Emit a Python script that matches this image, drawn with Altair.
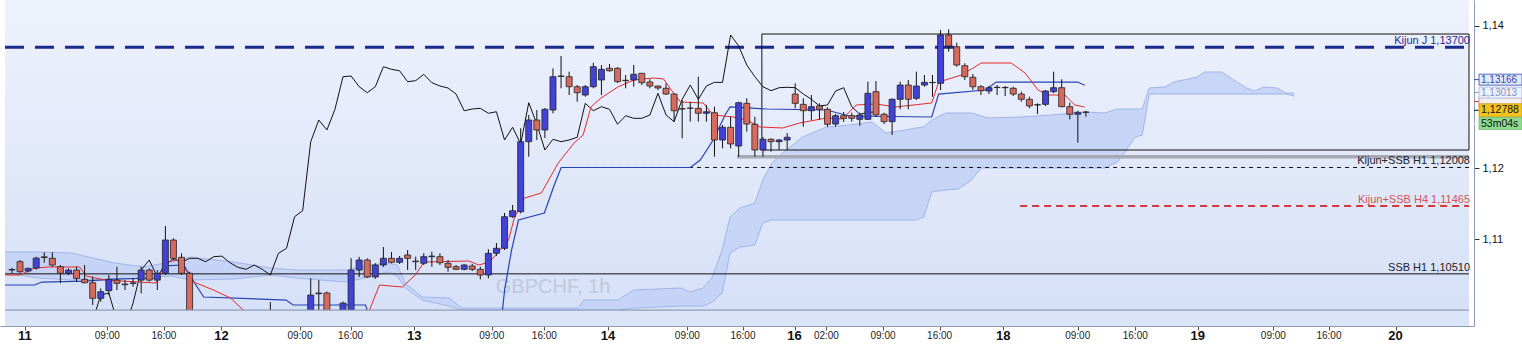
import altair as alt
import pandas as pd

FONT = "Liberation Sans"

# ---------------- candles (hourly bar index) ----------------
bar_index = list(range(134))
open_ = [1.10564, 1.10681, 1.10550, 1.10591, 1.10750, 1.10729, 1.10611, 1.10518, 1.10563, 1.10433,
         1.10385, 1.10166, 1.10273, 1.10422, 1.10367, 1.10377, 1.10422, 1.10563, 1.10422, 1.10518,
         1.10986, 1.10743, 1.10518, 1.0968, 1.0930, 1.0942, 1.0950, 1.0938, 1.0912, 1.0925,
         1.0940, 1.0952, 1.0965, 1.0975, 1.0960, 1.0925, 1.0958, 1.0985, 1.10230, 1.10241,
         1.0985, 1.0975, 1.0995, 1.10564, 1.10705, 1.10466, 1.10635, 1.10729, 1.10673, 1.10776,
         1.10690, 1.10659, 1.10752, 1.10752, 1.10659, 1.10611, 1.10574, 1.10621, 1.10574, 1.10494,
         1.10800, 1.10870, 1.11315, 1.11385, 1.12371, 1.12676, 1.12536, 1.12817, 1.13290, 1.13286,
         1.13145, 1.13028, 1.13145, 1.13240, 1.13404, 1.13404, 1.13236, 1.13240, 1.13334, 1.13211,
         1.13155, 1.13123, 1.13042, 1.12835, 1.12845, 1.12841, 1.12771, 1.12779, 1.12395, 1.12574,
         1.12310, 1.12911, 1.12616, 1.12254, 1.12405, 1.12371, 1.12395, 1.13042, 1.12897, 1.12807,
         1.12874, 1.12827, 1.12620, 1.12737, 1.12737, 1.12686, 1.12686, 1.13075, 1.12757, 1.12653,
         1.12968, 1.13169, 1.12982, 1.13169, 1.13202, 1.13193, 1.13873, 1.13708, 1.13441, 1.13278,
         1.13145, 1.13085, 1.13133, 1.13135, 1.13123, 1.13042, 1.12968, 1.12893, 1.12897, 1.13075,
         1.13131, 1.12864, 1.12757, 1.12785]
high_ = [1.10596, 1.10704, 1.10596, 1.10750, 1.10814, 1.10814, 1.10635, 1.10587, 1.10611, 1.10635,
         1.10470, 1.10306, 1.10494, 1.10611, 1.10422, 1.10447, 1.10611, 1.10587, 1.10563, 1.11184,
         1.11010, 1.10800, 1.10540, 1.0975, 1.0950, 1.0958, 1.0965, 1.0948, 1.0930, 1.0945,
         1.0958, 1.0972, 1.10113, 1.0985, 1.0968, 1.0965, 1.0990, 1.10448, 1.10422, 1.10260,
         1.0995, 1.10120, 1.10732, 1.10750, 1.10729, 1.10660, 1.10888, 1.10818, 1.10760, 1.10846,
         1.10752, 1.10800, 1.10822, 1.10800, 1.10705, 1.10635, 1.10650, 1.10649, 1.10611, 1.10856,
         1.10945, 1.11367, 1.11480, 1.12560, 1.12747, 1.12817, 1.12845, 1.13404, 1.13578, 1.13357,
         1.13169, 1.13169, 1.13483, 1.13451, 1.13465, 1.13423, 1.13310, 1.13451, 1.13338, 1.13250,
         1.13160, 1.13193, 1.13052, 1.12958, 1.12934, 1.13286, 1.12888, 1.12864, 1.12606, 1.12723,
         1.12934, 1.12982, 1.12723, 1.12437, 1.12419, 1.12409, 1.12493, 1.13193, 1.12982, 1.13028,
         1.12911, 1.12855, 1.12761, 1.12789, 1.12779, 1.12779, 1.13216, 1.13225, 1.12779, 1.12982,
         1.13216, 1.13240, 1.13357, 1.13310, 1.13310, 1.13944, 1.13953, 1.13765, 1.13475, 1.13324,
         1.13169, 1.13155, 1.13169, 1.13155, 1.13145, 1.13075, 1.13004, 1.12911, 1.13099, 1.13357,
         1.13250, 1.12920, 1.12807, 1.12807]
low_ = [1.10518, 1.10526, 1.10530, 1.10570, 1.10667, 1.10611, 1.10377, 1.10493, 1.10400, 1.10377,
        1.10072, 1.10118, 1.10212, 1.10282, 1.10282, 1.10329, 1.10236, 1.10400, 1.10282, 1.10494,
        1.10704, 1.10494, 1.0960, 1.0915, 1.0912, 1.0925, 1.0930, 1.0905, 1.0898, 1.0915,
        1.0928, 1.0940, 1.0955, 1.0950, 1.0896, 1.0915, 1.0950, 1.0975, 1.0995, 1.0980,
        1.0960, 1.0968, 1.0985, 1.10466, 1.10452, 1.10440, 1.10607, 1.10659, 1.10650, 1.10564,
        1.10564, 1.10635, 1.10611, 1.10635, 1.10540, 1.10564, 1.10560, 1.10550, 1.10433, 1.10448,
        1.10762, 1.10846, 1.11300, 1.11363, 1.12160, 1.12395, 1.12423, 1.12771, 1.13123, 1.13028,
        1.12934, 1.13004, 1.13123, 1.13028, 1.13357, 1.13197, 1.13123, 1.13145, 1.13169, 1.13123,
        1.13099, 1.13028, 1.12653, 1.12419, 1.12653, 1.12653, 1.12653, 1.12160, 1.12278, 1.12278,
        1.12160, 1.12512, 1.12160, 1.12160, 1.12230, 1.12254, 1.12254, 1.12841, 1.12582, 1.12676,
        1.12676, 1.12582, 1.12582, 1.12648, 1.12653, 1.12592, 1.12676, 1.12723, 1.12620, 1.12465,
        1.12827, 1.12827, 1.12958, 1.13145, 1.13004, 1.13099, 1.13638, 1.13427, 1.13240, 1.13099,
        1.13028, 1.13042, 1.13028, 1.13014, 1.13014, 1.12934, 1.12841, 1.12761, 1.12874, 1.13052,
        1.12855, 1.12686, 1.12357, 1.12723]
close_ = [1.10570, 1.10540, 1.10588, 1.10732, 1.10740, 1.10634, 1.10518, 1.10563, 1.10447, 1.10385,
          1.10166, 1.10259, 1.10433, 1.10377, 1.10357, 1.10382, 1.10563, 1.10422, 1.10518, 1.10986,
          1.10729, 1.10518, 1.0968, 1.0930, 1.0942, 1.0950, 1.0938, 1.0912, 1.0925, 1.0940,
          1.0952, 1.0965, 1.0975, 1.0960, 1.0925, 1.0958, 1.0985, 1.10212, 1.10241, 1.0985,
          1.0975, 1.10099, 1.10564, 1.10705, 1.10466, 1.10635, 1.10729, 1.10673, 1.10729, 1.10729,
          1.10681, 1.10752, 1.10760, 1.10667, 1.10602, 1.10574, 1.10635, 1.10574, 1.10494, 1.10800,
          1.10870, 1.11315, 1.11399, 1.12371, 1.12676, 1.12536, 1.12827, 1.13286, 1.13296, 1.13145,
          1.13061, 1.13145, 1.13427, 1.13390, 1.13370, 1.13216, 1.13230, 1.13320, 1.13202, 1.13155,
          1.13127, 1.13042, 1.12807, 1.12831, 1.12841, 1.12771, 1.12793, 1.12395, 1.12574, 1.12339,
          1.12920, 1.12620, 1.12254, 1.12405, 1.12371, 1.12395, 1.12433, 1.12911, 1.12807, 1.12864,
          1.12827, 1.12616, 1.12737, 1.12700, 1.12700, 1.12747, 1.13052, 1.12747, 1.12653, 1.12968,
          1.13169, 1.12968, 1.13155, 1.13207, 1.13206, 1.13873, 1.13718, 1.13451, 1.13286, 1.13145,
          1.13089, 1.13131, 1.13137, 1.13131, 1.13042, 1.12968, 1.12874, 1.12888, 1.13085, 1.13131,
          1.12864, 1.12757, 1.12785, 1.12788]

# ---------------- Ichimoku lines ----------------
tenkan_x = [-0.86, 0.98, 2.83, 4.67, 8.36, 9.23, 11.44, 17.84, 18.45, 19.19, 20.42, 21.53, 22.5,
            24.97, 27.06, 28.66, 31.1, 42.2, 44.28, 45.51, 48.34, 49.94, 51.05, 56.58, 57.81,
            59.16, 61.5, 62.24, 63.47, 65.56, 67.65, 69.62, 70.73, 71.71, 72.94, 75.03, 77.0,
            79.46, 80.69, 81.92, 82.78, 85.61, 86.84, 89.3, 91.02, 92.62, 95.45, 97.54, 100.86,
            102.83, 104.55, 107.01, 109.47, 113.9, 114.76, 117.59, 120.05, 123.74, 125.46,
            127.06, 128.29, 130.38, 131.61, 132.84]
tenkan_y = [1.10494, 1.10494, 1.10593, 1.10607, 1.10607, 1.10480, 1.10424, 1.10381, 1.10536,
            1.10677, 1.10705, 1.10564, 1.10395, 1.10282, 1.10170, 1.10000, 1.09832, 1.09832,
            1.10000, 1.10353, 1.10325, 1.10494, 1.10677, 1.10691, 1.10635, 1.10677, 1.10986,
            1.11311, 1.11578, 1.11649, 1.12071, 1.12353, 1.12465, 1.12860, 1.12986, 1.13141,
            1.13240, 1.13268, 1.13254, 1.13057, 1.12930, 1.12916, 1.12747, 1.12719, 1.12676,
            1.12578, 1.12564, 1.12634, 1.12705, 1.12690, 1.12888, 1.12902, 1.12860, 1.12916,
            1.13211, 1.13310, 1.13479, 1.13479, 1.13338, 1.13099, 1.13028, 1.13028, 1.12888,
            1.12860]
kijun_x = [-0.86, 2.83, 3.69, 8.98, 12.67, 17.96, 18.82, 21.28, 22.14, 23.74, 33.95, 34.81,
           43.79, 44.28, 60.64, 61.01, 61.87, 62.73, 65.93, 67.16, 68.02, 84.01, 85.24, 86.84,
           88.31, 88.93, 93.48, 100.86, 103.69, 113.9, 114.76, 120.54, 121.89, 131.98, 132.84]
kijun_y = [1.10353, 1.10353, 1.10395, 1.10409, 1.10437, 1.10452, 1.10621, 1.10635, 1.10466,
           1.10184, 1.10141, 1.10072, 1.10072, 1.09889, 1.09889, 1.10282, 1.10845, 1.11268,
           1.11367, 1.11761, 1.12008, 1.12008, 1.12113, 1.12395, 1.12747, 1.12860, 1.12831,
           1.12817, 1.12733, 1.12719, 1.13042, 1.13099, 1.13211, 1.13211, 1.13166]
CHIKOU_SHIFT = 26

cloud_x = [-0.86, 3.2, 7.38, 12.67, 16.36, 19.68, 22.14, 27.43, 31.98, 35.18, 41.33, 44.28,
           46.49, 47.72, 48.71, 50.8, 54.12, 55.72, 70.11, 70.85, 75.03, 77.0, 82.78, 84.01,
           85.61, 86.72, 87.95, 88.93, 90.16, 92.0, 92.99, 94.1, 95.45, 97.91, 100.86, 103.69,
           106.52, 108.24, 110.7, 111.93, 112.92, 113.9, 115.62, 117.22, 118.82, 120.05,
           120.91, 124.97, 128.66, 132.84, 135.3, 136.9, 137.76, 139.11, 139.98, 140.84,
           142.8, 143.91, 146.74, 147.72, 149.82, 151.29, 152.89, 153.87, 154.98, 156.58,
           157.81, 158.79]
cloud_upper = [1.10818, 1.10818, 1.10804, 1.10663, 1.10607, 1.10677, 1.10748, 1.10677, 1.10593,
               1.10564, 1.10564, 1.10635, 1.10662, 1.10635, 1.10381, 1.10184, 1.10170, 1.10029,
               1.10029, 1.10141, 1.10141, 1.10282, 1.10311, 1.10255, 1.10311, 1.10466, 1.10846,
               1.11311, 1.11437, 1.11508, 1.11832, 1.12071, 1.12212, 1.12437, 1.12578, 1.12606,
               1.12648, 1.12493, 1.12536, 1.12564, 1.12578, 1.12676, 1.12775, 1.12775, 1.12775,
               1.12733, 1.12705, 1.12719, 1.12747, 1.12789, 1.12775, 1.12831, 1.12831, 1.12831,
               1.12831, 1.13127, 1.13141, 1.13211, 1.13282, 1.13352, 1.13352, 1.13240, 1.13127,
               1.13085, 1.13141, 1.13127, 1.13057, 1.13057]
cloud_lower = [1.10522, 1.10452, 1.10424, 1.10437, 1.10452, 1.10480, 1.10424, 1.10437, 1.10494,
               1.10452, 1.10395, 1.10466, 1.10536, 1.10480, 1.10311, 1.10141, 1.10057, 1.10000,
               1.10000, 1.10000, 1.10000, 1.10029, 1.10057, 1.10057, 1.10057, 1.10114, 1.10241,
               1.10804, 1.10888, 1.10916, 1.11226, 1.11268, 1.11268, 1.11268, 1.11268, 1.11268,
               1.11268, 1.11268, 1.11268, 1.11268, 1.11311, 1.11663, 1.11691, 1.11705, 1.11832,
               1.12001, 1.12001, 1.12001, 1.12001, 1.12001, 1.12001, 1.12085, 1.12212, 1.12437,
               1.12465, 1.13042, 1.13042, 1.13042, 1.13042, 1.13042, 1.13042, 1.13042, 1.13042,
               1.13042, 1.13042, 1.13042, 1.13042, 1.13014]

# ---------------- horizontal levels / drawings ----------------
level_names = ["Kijun J", "Kijun+SSB H1", "Kijun+SSB H4", "SSB H1"]
level_prices = [1.13700, 1.12008, 1.11465, 1.10510]
level_start = [-0.861, 68.0, 124.85, -0.861]
box_top, box_bottom, box_start = 1.13887, 1.12254, 92.87
support_price, support_start = 1.12160, 89.79
floor_price = 1.10

# ---------------- axis labels ----------------
day_labels = ["11", "12", "13", "14", "16", "18", "19", "20"]
day_pos = [1.6, 25.95, 49.82, 73.80, 96.92, 122.76, 146.86, 171.34]
time_labels = ["09:00", "16:00", "09:00", "16:00", "09:00", "16:00", "09:00", "16:00", "02:00",
               "09:00", "16:00", "09:00", "16:00", "09:00", "16:00"]
time_pos = [11.81, 18.82, 35.67, 41.94, 59.41, 65.93, 83.64, 90.53, 100.86, 107.87, 114.88,
            131.98, 139.11, 156.21, 163.1]
price_ticks = [1.11, 1.12, 1.14]   # the 1,13 label is covered by the price tags

# right-hand price tags
tag_values = [1.12860, 1.13013, 1.13166, 1.12788, 1.12788]
tag_texts = ["", "1,13013", "1,13166", "1,12788", "53m04s"]
tag_fill = ["#f4eef0", "#eef1f9", "#e3e9f7", "#f3c21e", "#8fda8f"]
tag_edge = ["#d08080", "#a8b6dc", "#3446b0", "#c89a10", "#6cbf6c"]
tag_ink = ["#d04040", "#8392c4", "#3446b0", "#111111", "#111111"]
tag_tick = ["#d03030", "#8a98c8", "#3446b0", "#111111", "#ffffff"]
tag_shift = [-5.5, -3.5, -5.6, -1.8, 11.5]
tag_height = [11, 11, 11, 13, 12]
tag_font = [10, 10, 10, 10.5, 10.5]

# ---------------- scales ----------------
X_MIN, X_MAX = -0.861, 180.44
Y_MIN, Y_MAX = 1.09776, 1.14366
W, H = 1474, 326

xs = alt.Scale(domain=[X_MIN, X_MAX], nice=False, zero=False)
ys = alt.Scale(domain=[Y_MIN, Y_MAX], nice=False, zero=False)
x_axis = alt.Axis(values=day_pos + time_pos, labels=False, ticks=True, tickSize=4,
                  tickColor="#555555", domain=True, domainColor="#8d9bb3", grid=False, title=None)
y_axis = alt.Axis(orient="right", values=price_ticks,
                  labelExpr="replace(format(datum.value, '.2f'), '.', ',')",
                  tickSize=5, tickColor="#333333", domainColor="#8d9bb3", grid=False,
                  title=None, labelFont=FONT, labelFontSize=11, labelColor="#111111",
                  labelPadding=3)


def X(f):
    return alt.X(f, type="quantitative", scale=xs, axis=x_axis)


def Y(f):
    return alt.Y(f, type="quantitative", scale=ys, axis=y_axis)


layers = []

# background gradient
bg_df = pd.DataFrame({"x0": [X_MIN], "x1": [X_MAX], "y0": [floor_price], "y1": [Y_MAX]})
grad = alt.LinearGradient(gradient="linear",
                          stops=[alt.GradientStop(color="#eef2fc", offset=0),
                                 alt.GradientStop(color="#d6e0f7", offset=1)],
                          x1=0, x2=0, y1=0, y2=1)
layers.append(alt.Chart(bg_df).mark_rect(color=grad).encode(x=X("x0"), x2="x1", y=Y("y0"), y2="y1"))

# cloud
cloud_df = pd.DataFrame({"n": cloud_x, "up": cloud_upper, "lo": cloud_lower})
layers.append(alt.Chart(cloud_df).mark_area(color="#c3d2f5", opacity=0.9, clip=True).encode(
    x=X("n"), y=Y("up"), y2="lo"))
layers.append(alt.Chart(cloud_df).mark_line(color="#a3b5e9", strokeWidth=1, clip=True).encode(x=X("n"), y=Y("up")))
layers.append(alt.Chart(cloud_df).mark_line(color="#a3b5e9", strokeWidth=1, clip=True).encode(x=X("n"), y=Y("lo")))

# watermark
layers.append(alt.Chart(pd.DataFrame({"t": ["GBPCHF, 1h"]})).mark_text(
    font=FONT, fontSize=20, color="#c0c8de").encode(text="t:N", x=alt.value(553), y=alt.value(287)))

# level lines
lv = pd.DataFrame({"name": level_names, "price": level_prices, "start": level_start, "end": [X_MAX] * 4})
lv["label"] = [f"{n} {p:.5f}".replace(".", ",") for n, p in zip(level_names, level_prices)]
lv["col"] = ["#2a2a92", "#222222", "#d65454", "#222222"]
line_styles = [
    dict(color="#1b2a8f", strokeWidth=3, strokeDash=[19, 11]),
    dict(color="#111111", strokeWidth=1, strokeDash=[4, 4]),
    dict(color="#d43a3a", strokeWidth=2, strokeDash=[7, 5]),
    dict(color="#111111", strokeWidth=1),
]
sup_df = pd.DataFrame({"price": [support_price], "start": [support_start], "end": [X_MAX]})
layers.append(alt.Chart(sup_df).mark_rule(color="#a7a9b3", strokeWidth=3.5, clip=True).encode(
    x=X("start"), x2="end", y=Y("price")))
for i, st in enumerate(line_styles):
    layers.append(alt.Chart(lv.iloc[[i]]).mark_rule(clip=True, **st).encode(
        x=X("start"), x2="end", y=Y("price")))
box_df = pd.DataFrame({"x0": [box_start], "x1": [X_MAX], "y0": [box_bottom], "y1": [box_top]})
layers.append(alt.Chart(box_df).mark_rect(fillOpacity=0, stroke="#111111", strokeWidth=1, clip=True).encode(
    x=X("x0"), x2="x1", y=Y("y0"), y2="y1"))

# ichimoku lines
ch_df = pd.DataFrame({"n": [n - CHIKOU_SHIFT for n in bar_index[CHIKOU_SHIFT:]],
                      "p": close_[CHIKOU_SHIFT:]})
layers.append(alt.Chart(ch_df).mark_line(color="#111111", strokeWidth=1, clip=True).encode(x=X("n"), y=Y("p")))
kj_df = pd.DataFrame({"n": kijun_x, "p": kijun_y})
layers.append(alt.Chart(kj_df).mark_line(color="#2643b4", strokeWidth=1.2, clip=True).encode(x=X("n"), y=Y("p")))
tk_df = pd.DataFrame({"n": tenkan_x, "p": tenkan_y})
layers.append(alt.Chart(tk_df).mark_line(color="#e52a2a", strokeWidth=1, clip=True).encode(x=X("n"), y=Y("p")))

# candles
cd = pd.DataFrame({"n": bar_index, "o": open_, "h": high_, "l": low_, "c": close_})
cd["dir"] = ["up" if c >= o else "down" for o, c in zip(open_, close_)]
layers.append(alt.Chart(cd).mark_rule(color="#111111", strokeWidth=1, clip=True).encode(
    x=X("n"), y=Y("l"), y2="h"))
layers.append(alt.Chart(cd).mark_bar(width=6, stroke="#222222", strokeWidth=0.8, clip=True).encode(
    x=X("n"), y=Y("o"), y2="c",
    color=alt.Color("dir:N", scale=alt.Scale(domain=["up", "down"], range=["#4242d6", "#d76a5f"]), legend=None)))

# level labels
layers.append(alt.Chart(lv).mark_text(font=FONT, fontSize=11, align="right", baseline="bottom", dy=-1).encode(
    x=alt.value(1470), y=Y("price"), text="label:N", color=alt.Color("col:N", scale=None)))

# bottom strip below 1,10
band_df = pd.DataFrame({"x0": [X_MIN], "x1": [X_MAX], "y0": [Y_MIN], "y1": [floor_price]})
layers.append(alt.Chart(band_df).mark_rect(color="#dbe4f9").encode(x=X("x0"), x2="x1", y=Y("y0"), y2="y1"))
layers.append(alt.Chart(band_df).mark_rule(color="#7f8ca6", strokeWidth=1).encode(x=X("x0"), x2="x1", y=Y("y1")))

# x labels
dl = pd.DataFrame({"n": day_pos, "t": day_labels})
tl = pd.DataFrame({"n": time_pos, "t": time_labels})
layers.append(alt.Chart(dl).mark_text(font=FONT, fontSize=13, fontWeight="bold", color="#111111", baseline="middle").encode(
    x=X("n"), y=alt.value(336), text="t:N"))
layers.append(alt.Chart(tl).mark_text(font=FONT, fontSize=10, color="#222222", baseline="middle").encode(
    x=X("n"), y=alt.value(336), text="t:N"))

# price tags on the right
for v, t, f, edge, ink, tk, sh, hh, fs in zip(tag_values, tag_texts, tag_fill, tag_edge, tag_ink,
                                              tag_tick, tag_shift, tag_height, tag_font):
    tdf = pd.DataFrame({"p": [v], "t": [t]})
    layers.append(alt.Chart(tdf).mark_rule(color=tk, strokeWidth=1, yOffset=sh).encode(
        x=alt.value(W), x2=alt.value(W + 5), y=Y("p")))
    layers.append(alt.Chart(tdf).mark_rect(color=f, stroke=edge, strokeWidth=0.8,
                                           yOffset=sh - hh / 2, y2Offset=sh + hh / 2).encode(
        x=alt.value(W + 5), x2=alt.value(W + 48), y=Y("p"), y2="p"))
    if t:
        layers.append(alt.Chart(tdf).mark_text(font=FONT, fontSize=fs, color=ink, align="left",
                                               baseline="middle", yOffset=sh).encode(
            x=alt.value(W + 7), y=Y("p"), text="t:N"))

chart = alt.layer(*layers).properties(
    width=W, height=H,
    autosize=alt.AutoSizeParams(type="none"),
    padding={"left": 0, "top": 0, "right": 48, "bottom": 19},
    background="white",
).configure_view(stroke=None)

chart.save("out.html", embed_options={"renderer": "svg", "actions": False})
